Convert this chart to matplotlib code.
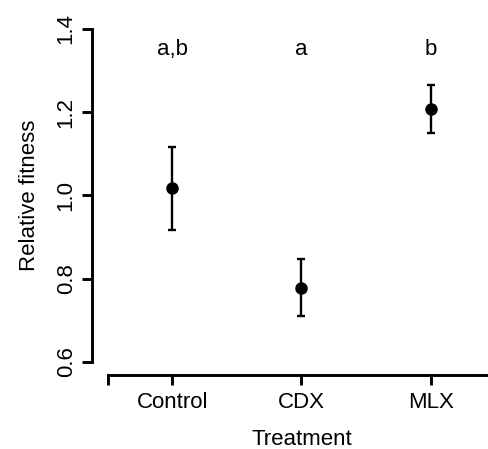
import matplotlib
matplotlib.use("Agg")
import matplotlib.pyplot as plt

# data
treatments = ["Control", "CDX", "MLX"]
means = [1.017, 0.777, 1.208]
upper = [1.117, 0.846, 1.266]
lower = [0.916, 0.709, 1.149]
letters = ["a,b", "a", "b"]
letter_y = 1.35
y_ticks = [0.6, 0.8, 1.0, 1.2, 1.4]

plt.rcParams["font.family"] = ["Liberation Sans", "DejaVu Sans"]

fig = plt.figure(figsize=(4.88, 4.49), dpi=100)
ax = fig.add_axes([0.1885, 0.1648, 0.8586, 0.8004])

x = list(range(1, len(treatments) + 1))
yerr = [[m - lo for m, lo in zip(means, lower)],
        [hi - m for m, hi in zip(means, upper)]]
ax.errorbar(x, means, yerr=yerr, fmt="o", color="black", markersize=8,
            elinewidth=1.7, capsize=2.8, capthick=1.7)

for xi, lab in zip(x, letters):
    ax.text(xi, letter_y, lab, ha="center", va="center", fontsize=16)

ax.set_xlim(0.38, 3.62)
ax.set_ylim(0.568, 1.432)

for s in ["top", "right"]:
    ax.spines[s].set_visible(False)
ax.spines["left"].set_bounds(0.6, 1.4)
ax.spines["bottom"].set_bounds(0.5, 3.5)
ax.spines["left"].set_linewidth(2.1)
ax.spines["bottom"].set_linewidth(2.1)

ax.set_yticks(y_ticks)
ax.set_yticklabels([f"{v:.1f}" for v in y_ticks], rotation=90, va="center")
ax.set_xticks([0.5] + x + [3.5])
ax.set_xticklabels([""] + treatments + [""])
ax.tick_params(axis="both", width=2.1, length=7, labelsize=16, direction="out")
ax.tick_params(axis="y", pad=4)
ax.tick_params(axis="x", pad=5)

ax.set_xlabel("Treatment", fontsize=16, labelpad=12)
ax.set_ylabel("Relative fitness", fontsize=16, labelpad=11)

fig.savefig("out.png", dpi=100)
